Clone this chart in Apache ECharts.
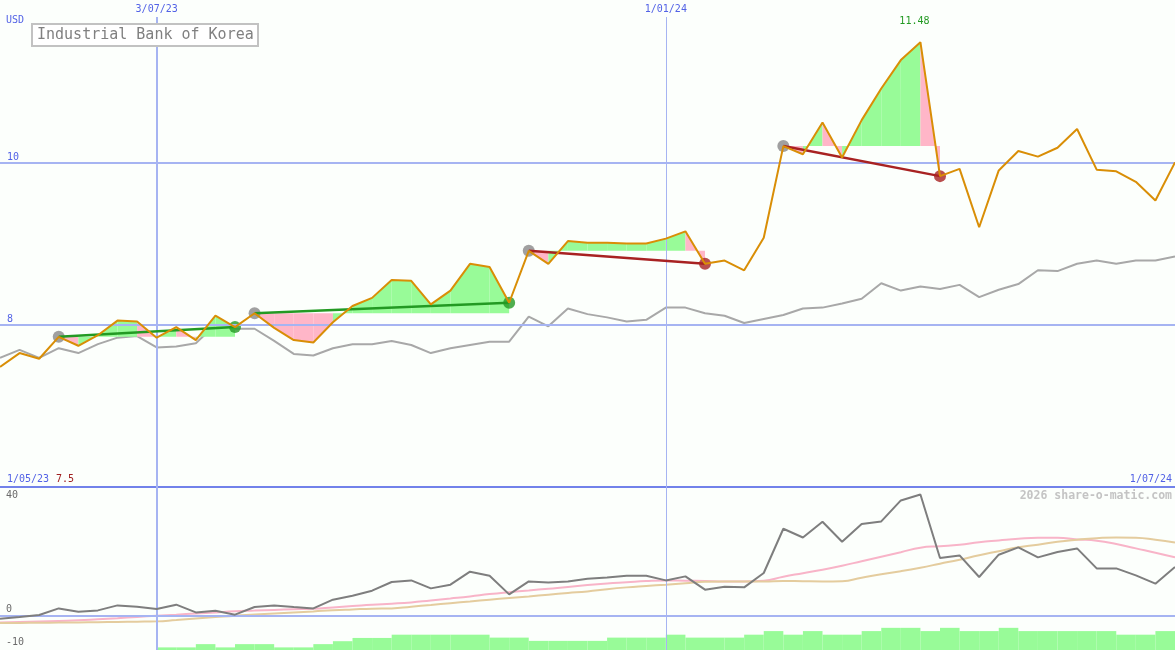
<!DOCTYPE html>
<html><head><meta charset="utf-8">
<script src="https://cdn.jsdelivr.net/npm/echarts@6/dist/echarts.min.js"></script>
<style>html,body{margin:0;padding:0;background:#fcfffc}#c{width:1175px;height:650px}</style>
</head><body><div id="c"></div>
<script>
// ---- categories: weekly points ----
const startWeek = '2023-05-08';
const weekCount = 61;
const weeks = [];
for (let i = 0; i < weekCount; i++) {
  const t = new Date(Date.parse(startWeek + 'T00:00:00Z') + i * 7 * 864e5);
  weeks.push(t.toISOString().slice(0, 10));
}
const markerWeeks = ['2023-07-03', '2024-01-01'];
const markerWidths = [2, 1];

// ---- main panel (USD) ----
const price = [7.48, 7.65, 7.58, 7.85, 7.74, 7.87, 8.05, 8.04, 7.84, 7.97,
  7.81, 8.11, 7.97, 8.14, 7.96, 7.81, 7.78, 8.03, 8.23, 8.33,
  8.55, 8.54, 8.25, 8.42, 8.75, 8.71, 8.27, 8.91, 8.75, 9.03,
  9.01, 9.01, 9.00, 9.00, 9.06, 9.15, 8.75, 8.79, 8.67, 9.07,
  10.20, 10.10, 10.49, 10.06, 10.52, 10.91, 11.26, 11.48, 9.83, 9.92,
  9.20, 9.90, 10.14, 10.07, 10.18, 10.41, 9.91, 9.89, 9.76, 9.53, 10.00];
const bench = [7.59, 7.69, 7.59, 7.71, 7.65, 7.76, 7.84, 7.86, 7.72, 7.73,
  7.77, 8.00, 7.95, 7.95, 7.80, 7.64, 7.62, 7.71, 7.76, 7.76,
  7.80, 7.75, 7.65, 7.71, 7.75, 7.79, 7.79, 8.10, 7.98, 8.20,
  8.13, 8.09, 8.04, 8.06, 8.21, 8.21, 8.14, 8.11, 8.02, 8.07,
  8.12, 8.20, 8.21, 8.26, 8.32, 8.51, 8.42, 8.47, 8.44, 8.49,
  8.34, 8.43, 8.50, 8.67, 8.66, 8.75, 8.79, 8.75, 8.79, 8.79, 8.84];
const tradeStart = [3, 13, 27, 40];
const tradeEnd = [12, 26, 36, 48];
const mainTicks = [8, 10];

// ---- lower panel ----
const relPerf = [-1.05, -0.45, 0.24, 2.55, 1.4, 1.85, 3.6, 3.15, 2.34, 3.85,
  1.15, 1.75, 0.35, 3.04, 3.6, 3.04, 2.55, 5.6, 7.0, 8.74,
  11.78, 12.34, 9.55, 10.84, 15.38, 13.99, 7.45, 11.99, 11.64, 11.99,
  12.94, 13.39, 13.99, 13.99, 12.34, 13.74, 9.09, 10.14, 9.9, 14.93,
  30.4, 27.35, 32.87, 25.87, 32.06, 32.97, 40.3, 42.4, 20.17, 21.08,
  13.53, 21.33, 23.88, 20.38, 22.27, 23.53, 16.54, 16.54, 14.1, 11.19, 17.03];
const pinkMA = [-2.34, -2.17, -1.99, -1.82, -1.64, -1.26, -0.87, -0.42, 0, 0.35,
  0.77, 1.15, 1.54, 1.78, 2.03, 2.27, 2.45, 2.9, 3.36, 3.85,
  4.2, 4.65, 5.35, 6.01, 6.71, 7.55, 8.22, 8.81, 9.44, 10.03,
  10.73, 11.29, 11.71, 12.13, 12.34, 12.24, 12.13, 11.99, 11.99, 12.24,
  13.64, 14.86, 16.08, 17.48, 19.06, 20.63, 22.2, 23.78, 24.3, 24.83,
  25.7, 26.33, 26.92, 27.27, 27.27, 26.68, 26.22, 25.07, 23.53, 22.03, 20.38];
const tanMA = [-2.55, -2.52, -2.45, -2.41, -2.34, -2.27, -2.17, -2.1, -1.99, -1.5,
  -0.98, -0.49, 0, 0.38, 0.77, 1.15, 1.5, 1.92, 2.2, 2.45,
  2.52, 3.15, 3.74, 4.37, 4.97, 5.59, 6.19, 6.75, 7.34, 7.93,
  8.49, 9.27, 9.9, 10.38, 10.84, 11.36, 11.89, 11.99, 11.99, 11.99,
  12.17, 12.06, 11.99, 12.06, 13.29, 14.51, 15.56, 16.78, 18.18, 19.58,
  21.15, 22.55, 23.95, 24.83, 25.87, 26.57, 27.1, 27.38, 27.27, 26.57, 25.63];
const volume = [null, null, null, null, null, null, null, null,
  0.8, 0.8, 1.8, 0.8, 1.8, 1.8, 0.8, 0.8, 1.8, 2.7,
  3.7, 3.7, 4.7, 4.7, 4.7, 4.7, 4.7, 3.8, 3.8, 2.8,
  2.8, 2.8, 2.8, 3.8, 3.8, 3.8, 4.7, 3.8, 3.8, 3.8,
  4.7, 5.8, 4.7, 5.8, 4.7, 4.7, 5.8, 6.8, 6.8, 5.8,
  6.8, 5.8, 5.8, 6.8, 5.8, 5.8, 5.8, 5.8, 5.8, 4.7, 4.7, 5.8, null];
const lowerTicks = [40, 0, -10];

// ---- styling ----
const MONO = '"DejaVu Sans Mono", "Liberation Mono", monospace';
const BLUE_TXT = '#5262e6';
const GRID_BLUE = '#a6b4f2';
const SEP_BLUE = '#7282ea';

function fmtDate(s) {
  const [y, m, d] = s.split('-');
  return parseInt(d, 10) + '/' + m + '/' + y.slice(2);
}

// trade fills (segment polygons between price and entry level)
const fillData = [];
const trendSeries = [];
const dotData = [];
tradeStart.forEach((s, t) => {
  const e = tradeEnd[t];
  const level = price[s];
  for (let i = s; i < e; i++) fillData.push([i, price[i], price[i + 1], level, price[i + 1] > level ? 1 : 0]);
  const up = price[e] > price[s];
  const col = up ? '#239a23' : '#a82222';
  trendSeries.push({
    type: 'line', xAxisIndex: 0, yAxisIndex: 0, z: 5, silent: true, animation: false,
    symbol: 'none', data: [[s, price[s]], [e, price[e]]],
    lineStyle: { color: col, width: 2.5 }
  });
  dotData.push({ value: [s, price[s]], itemStyle: { color: '#888888' } });
  dotData.push({ value: [e, price[e]], itemStyle: { color: col } });
});

const volBars = [];
volume.forEach((v, i) => { if (v !== null) volBars.push([i, v]); });

const chart = echarts.init(document.getElementById('c'), null, { renderer: 'canvas' });
const nulls = weeks.map(() => null);

const option = {
  backgroundColor: '#fcfffc',
  animation: false,
  title: {
    text: 'Industrial Bank of Korea', left: 32, top: 24, padding: [2, 5],
    borderColor: '#c2c2c2', borderWidth: 2, backgroundColor: '#ffffff',
    textStyle: { fontFamily: MONO, fontSize: 15, fontWeight: 'normal', color: '#808080', lineHeight: 18 }
  },
  grid: [
    { left: 0, right: 0, top: 0, height: 487 },
    { left: 0, right: 0, top: 487, height: 163 }
  ],
  xAxis: [
    { type: 'category', gridIndex: 0, data: weeks, boundaryGap: false,
      axisLine: { show: false }, axisTick: { show: false }, axisLabel: { show: false }, splitLine: { show: false } },
    { type: 'category', gridIndex: 1, data: weeks, boundaryGap: false, position: 'top',
      axisLine: { show: true, onZero: false, lineStyle: { color: SEP_BLUE, width: 2 } },
      axisTick: { show: false }, axisLabel: { show: false }, splitLine: { show: false } }
  ],
  yAxis: [
    { type: 'value', gridIndex: 0, min: 6, max: 12, interval: 2,
      axisLine: { show: false }, axisTick: { show: false }, splitLine: { show: false },
      axisLabel: { inside: true, margin: 7, color: BLUE_TXT, fontFamily: MONO, fontSize: 10, verticalAlign: 'bottom',
        formatter: v => mainTicks.includes(v) ? String(v) : '' } },
    { type: 'value', gridIndex: 1, min: -12, max: 45, interval: 1,
      axisLine: { show: false }, axisTick: { show: false }, splitLine: { show: false },
      axisLabel: { inside: true, margin: 6, color: '#6a6a6a', fontFamily: MONO, fontSize: 10, verticalAlign: 'middle',
        formatter: v => !lowerTicks.includes(v) ? '' : (v < 0 ? '{lo|' + v + '}' : '{hi|' + v + '}'),
        rich: {
          hi: { color: '#6a6a6a', fontFamily: MONO, fontSize: 10, padding: [0, 0, 12, 0] },
          lo: { color: '#6a6a6a', fontFamily: MONO, fontSize: 10, padding: [0, 0, 4, 0] }
        } } },
    { type: 'value', gridIndex: 1, min: 0, max: 50, show: false }
  ],
  graphic: [
    { type: 'text', x: 6, y: 20, z: 10, style: { text: 'USD', fill: BLUE_TXT, font: '10px ' + MONO, align: 'left', verticalAlign: 'middle' } },
    { type: 'text', x: 7, y: 479, z: 10, style: { text: '1/05/23', fill: BLUE_TXT, font: '10px ' + MONO, align: 'left', verticalAlign: 'middle' } },
    { type: 'text', x: 56, y: 479, z: 10, style: { text: price[0].toFixed(1), fill: '#a02020', font: '10px ' + MONO, align: 'left', verticalAlign: 'middle' } },
    { type: 'text', x: 1172, y: 479, z: 10, style: { text: '1/07/24', fill: BLUE_TXT, font: '10px ' + MONO, align: 'right', verticalAlign: 'middle' } },
    { type: 'text', x: 1172, y: 496, z: 10, style: { text: '2026 share-o-matic.com', fill: '#c4c4c4', font: 'bold 11.5px ' + MONO, align: 'right', verticalAlign: 'middle' } }
  ],
  series: [
    // guides for main panel
    { type: 'line', xAxisIndex: 0, yAxisIndex: 0, data: nulls, z: 1, silent: true, symbol: 'none',
      markLine: { silent: true, symbol: ['none', 'none'], animation: false,
        label: { show: true, position: 'start', formatter: '{b}', color: BLUE_TXT, fontFamily: MONO, fontSize: 10, distance: 3 },
        data: markerWeeks.map((w, k) => [
          { name: fmtDate(w), coord: [w, 11.79], lineStyle: { color: GRID_BLUE, width: markerWidths[k], type: 'solid' } },
          { coord: [w, 6] }
        ]).concat(mainTicks.map(v => [
          { name: '', coord: [weeks[0], v], lineStyle: { color: GRID_BLUE, width: 2, type: 'solid' }, label: { show: false } },
          { coord: [weeks[weeks.length - 1], v] }
        ]))
      } },
    { name: 'benchmark', type: 'line', xAxisIndex: 0, yAxisIndex: 0, data: bench, z: 2, symbol: 'none', silent: true,
      lineStyle: { color: '#a8a8a8', width: 2 } },
    { type: 'custom', xAxisIndex: 0, yAxisIndex: 0, z: 3, silent: true, data: fillData,
      encode: { x: 0, y: 1 },
      renderItem: (params, api) => {
        const i = api.value(0), a = api.value(1), b = api.value(2), lv = api.value(3), up = api.value(4);
        return { type: 'polygon',
          shape: { points: [api.coord([i, lv]), api.coord([i, a]), api.coord([i + 1, b]), api.coord([i + 1, lv])] },
          style: { fill: up ? '#98fb98' : '#ffb6c8', stroke: null } };
      } },
    { type: 'scatter', xAxisIndex: 0, yAxisIndex: 0, z: 4, silent: true, symbol: 'circle', symbolSize: 12, data: dotData },
    ...trendSeries,
    { name: 'price', type: 'line', xAxisIndex: 0, yAxisIndex: 0, data: price, z: 6, symbol: 'none', silent: true,
      lineStyle: { color: '#d98e06', width: 2 },
      markPoint: { silent: true, animation: false, symbol: 'circle', symbolSize: 1, itemStyle: { color: 'rgba(0,0,0,0)' },
        label: { show: true, position: 'top', distance: 15, offset: [-6, 0], color: '#239a23', fontFamily: MONO, fontSize: 10,
          formatter: p => Number(p.value).toFixed(2) },
        data: [{ type: 'max' }] } },
    // lower panel guides
    { type: 'line', xAxisIndex: 1, yAxisIndex: 1, data: nulls, z: 1, silent: true, symbol: 'none',
      markLine: { silent: true, symbol: ['none', 'none'], animation: false, label: { show: false },
        data: markerWeeks.map((w, k) => ({ xAxis: w, lineStyle: { color: GRID_BLUE, width: markerWidths[k], type: 'solid' } }))
          .concat([{ yAxis: 0, lineStyle: { color: GRID_BLUE, width: 2, type: 'solid' } }]) } },
    { type: 'custom', xAxisIndex: 1, yAxisIndex: 2, z: 2, silent: true, data: volBars, encode: { x: 0, y: 1 },
      renderItem: (params, api) => {
        const i = api.value(0), v = api.value(1);
        const p0 = api.coord([i, v]), p1 = api.coord([i + 1, 0]);
        return { type: 'rect', shape: { x: p0[0], y: p0[1], width: p1[0] - p0[0], height: p1[1] - p0[1] },
          style: { fill: '#98fb98' } };
      } },
    { type: 'line', xAxisIndex: 1, yAxisIndex: 1, data: pinkMA, z: 3, symbol: 'none', silent: true, smooth: true,
      lineStyle: { color: '#f8b4c8', width: 2 } },
    { type: 'line', xAxisIndex: 1, yAxisIndex: 1, data: tanMA, z: 4, symbol: 'none', silent: true, smooth: true,
      lineStyle: { color: '#e4cc9e', width: 2 } },
    { type: 'line', xAxisIndex: 1, yAxisIndex: 1, data: relPerf, z: 5, symbol: 'none', silent: true,
      lineStyle: { color: '#7e7e7e', width: 2 } }
  ]
};
chart.setOption(option);
</script></body></html>
